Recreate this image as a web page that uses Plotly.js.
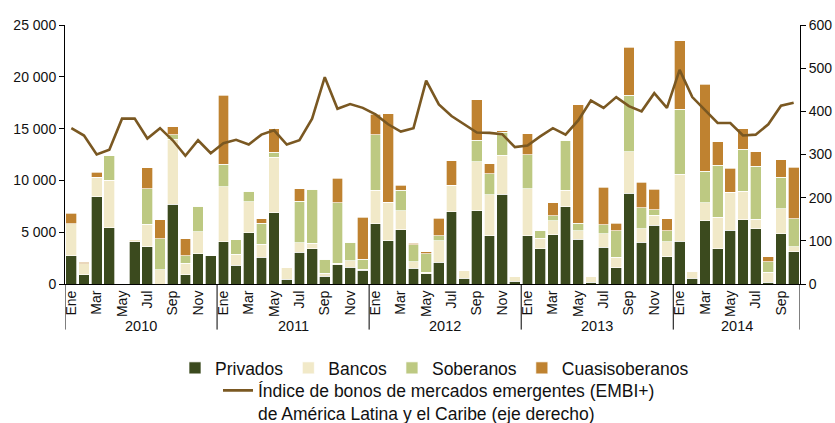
<!DOCTYPE html>
<html>
<head>
<meta charset="utf-8">
<script src="https://cdn.plot.ly/plotly-3.0.1.min.js"></script>
<style>html,body{margin:0;padding:0;background:#fff;}#chart{width:835px;height:423px;}</style>
</head>
<body>
<div id="chart"></div>
<script>
// ---- Data (millones de dólares; EMBI+ en puntos básicos) ----
var years = [2010, 2011, 2012, 2013, 2014];
var monthNames = ['Ene','Feb','Mar','Abr','May','Jun','Jul','Ago','Sep','Oct','Nov','Dic'];
var tickMonths = ['Ene','Mar','May','Jul','Sep','Nov'];
var monthsPerYear = [12, 12, 12, 12, 10];

var privados = [
  2750, 900, 8400, 5450, 0, 4100, 3600, 0, 7700, 900, 2900, 2720,
  4100, 1800, 4950, 2600, 6900, 480, 3080, 3420, 730, 1880, 1630, 1310,
  5800, 4160, 5220, 1540, 990, 2110, 6980, 540, 7050, 4670, 8650, 250,
  4640, 3390, 4740, 7460, 4330, 150, 3560, 1570, 8750, 4040, 5670, 2650,
  4130, 540, 6110, 3420, 5190, 6210, 5320, 150, 4840, 3100
];
var bancos = [
  3050, 1050, 1900, 4580, 0, 230, 2150, 1380, 6250, 1120, 2150, 0,
  5290, 1050, 3000, 1250, 5350, 1090, 890, 520, 330, 100, 610, 100,
  3270, 3720, 1830, 630, 160, 2080, 2540, 810, 4740, 3950, 3780, 480,
  4550, 1030, 1370, 1580, 790, 620, 1310, 1030, 4000, 1310, 990, 1420,
  6450, 710, 1740, 3020, 3680, 2760, 930, 1000, 2400, 520
];
var soberanos = [
  0, 0, 0, 2340, 0, 0, 3450, 3000, 450, 700, 2440, 0,
  2180, 1410, 1000, 2000, 450, 0, 4040, 5190, 1340, 5870, 1800, 960,
  5350, 0, 1990, 1640, 1760, 450, 0, 0, 2080, 2010, 2240, 0,
  3310, 700, 490, 4830, 740, 0, 830, 2550, 5450, 1990, 510, 1080,
  6280, 0, 3040, 5030, 0, 4040, 5130, 1020, 3080, 2660
];
var cuasisoberanos = [
  1030, 150, 500, 0, 0, 0, 2000, 1830, 760, 1640, 0, 0,
  6660, 0, 0, 430, 2280, 0, 1180, 0, 0, 2340, 0, 4070,
  1960, 8560, 510, 130, 220, 1700, 2400, 0, 3920, 970, 130, 0,
  1980, 0, 1250, 0, 11440, 0, 3630, 710, 4650, 2500, 1990, 1130,
  6600, 0, 8400, 2240, 2310, 1990, 1410, 460, 1660, 4970
];
var embi = [
  361, 344, 300, 311, 383, 383, 337, 361, 333, 297, 333, 303,
  326, 334, 323, 346, 356, 323, 333, 383, 479, 406, 417, 408,
  393, 370, 353, 361, 471, 416, 389, 370, 351, 350, 347, 317,
  321, 342, 361, 346, 379, 425, 408, 433, 412, 400, 442, 408,
  496, 433, 402, 373, 373, 344, 346, 370, 413, 420
];

// ---- Build month index positions ----
var xIdx = [], monthLabel = [];
var yearStart = [], yearEnd = [];
var k = 0;
years.forEach(function (yr, yi) {
  yearStart.push(k);
  for (var m = 0; m < monthsPerYear[yi]; m++) {
    xIdx.push(k);
    monthLabel.push(monthNames[m]);
    k++;
  }
  yearEnd.push(k - 1);
});
var tickvals = [], ticktext = [];
xIdx.forEach(function (x, i) {
  if (tickMonths.indexOf(monthLabel[i]) >= 0) { tickvals.push(x); ticktext.push(monthLabel[i]); }
});

var colors = { privados: '#3b4a1e', bancos: '#f1e9c8', soberanos: '#bdc982', cuasi: '#bf8230', line: '#7a5822' };
var edge = { color: 'rgba(255,255,255,0.85)', width: 0.8 };

function barTrace(name, vals, color) {
  return { type: 'bar', name: name, x: xIdx, y: vals, marker: { color: color, line: edge },
           legend: 'legend', hoverinfo: 'skip' };
}

var traces = [
  barTrace('Privados', privados, colors.privados),
  barTrace('Bancos', bancos, colors.bancos),
  barTrace('Soberanos', soberanos, colors.soberanos),
  barTrace('Cuasisoberanos', cuasisoberanos, colors.cuasi),
  { type: 'scatter', mode: 'lines', name: 'Índice de bonos de mercados emergentes (EMBI+)<br>de América Latina y el Caribe (eje derecho)',
    x: xIdx, y: embi, yaxis: 'y2', line: { color: colors.line, width: 2.6 }, legend: 'legend2', hoverinfo: 'skip' }
];

var shapes = [];
var divs = yearStart.map(function (s) { return s - 0.5; });
divs.push(yearEnd[yearEnd.length - 1] + 0.5);
divs.forEach(function (d) {
  shapes.push({ type: 'line', xref: 'x', yref: 'paper', x0: d, x1: d, y0: 0, y1: -0.176,
                line: { color: '#000', width: 1 } });
});

var annotations = years.map(function (yr, i) {
  return { xref: 'x', yref: 'paper', x: (yearStart[i] + yearEnd[i]) / 2, y: -0.161,
           yanchor: 'middle', xanchor: 'center', showarrow: false, text: String(yr),
           font: { size: 14.5, color: '#111' } };
});

var font = { family: 'Arial, "Liberation Sans", sans-serif', size: 14, color: '#111' };

var layout = {
  width: 835, height: 423,
  margin: { l: 65, r: 35, t: 25, b: 139, pad: 0, autoexpand: false },
  paper_bgcolor: '#fff', plot_bgcolor: '#fff',
  font: font,
  separators: ', ',
  barmode: 'stack',
  bargap: 0.15,
  showlegend: true,
  xaxis: {
    range: [-0.5, xIdx.length - 0.5], tickmode: 'array', tickvals: tickvals, ticktext: ticktext,
    tickangle: -90, ticks: '', showgrid: false, zeroline: false, showline: true,
    linecolor: '#000', linewidth: 1, tickfont: { size: 14 }, fixedrange: true
  },
  yaxis: {
    range: [0, 25000], dtick: 5000, tick0: 0, tickformat: ',d', separatethousands: true,
    exponentformat: 'none',
    ticks: 'outside', ticklen: 5, tickcolor: '#000', showgrid: false, zeroline: false,
    showline: true, linecolor: '#000', linewidth: 1, tickfont: { size: 14 }
  },
  yaxis2: {
    overlaying: 'y', side: 'right', range: [0, 600], dtick: 100, tick0: 0,
    ticks: 'outside', ticklen: 5, tickcolor: '#000', showgrid: false, zeroline: false,
    showline: true, linecolor: '#000', linewidth: 1, tickfont: { size: 14 }
  },
  legend: {
    orientation: 'h', xref: 'container', yref: 'container', x: 175 / 835, xanchor: 'left',
    y: 1 - 368 / 423, yanchor: 'middle', font: { size: 17.5, color: '#111' },
    bgcolor: 'rgba(0,0,0,0)', traceorder: 'normal'
  },
  legend2: {
    orientation: 'h', xref: 'container', yref: 'container', x: 218 / 835, xanchor: 'left',
    y: 1 - 402 / 423, yanchor: 'middle', valign: 'top', font: { size: 17.5, color: '#111' },
    bgcolor: 'rgba(0,0,0,0)'
  },
  shapes: shapes,
  annotations: annotations
};

Plotly.newPlot('chart', traces, layout, { displayModeBar: false, staticPlot: true });
</script>
</body>
</html>
